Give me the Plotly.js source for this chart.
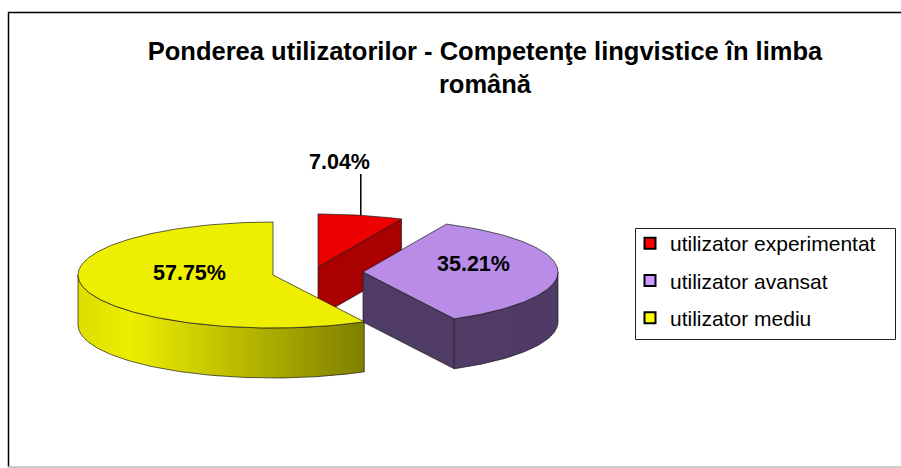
<!DOCTYPE html>
<html>
<head>
<meta charset="utf-8">
<script src="https://cdn.plot.ly/plotly-3.0.0.min.js"></script>
<style>html,body{margin:0;padding:0;background:#fff}#c{width:901px;height:468px}</style>
</head>
<body>
<div id="c"></div>
<script>
var titleText = 'Ponderea utilizatorilor - Competenţe lingvistice în limba<br>română';
var categories = ['utilizator experimentat', 'utilizator avansat', 'utilizator mediu'];
var values = [7.04, 35.21, 57.75];
var legendColors = ['#FF0000', '#CC99FF', '#FFFF00'];
var topColors = ['#EE0000', '#B98CE8', '#EEEE00'];
var sideColors = ['#AA0000', '#503A66', '#DDDD00'];

// projection of the tilted, exploded pie onto the picture's pixel grid
var RX = 195, RY = 53, DEPTH = 50;
var centers = [[318, 267], [363, 272], [273, 275]];
var labelPos = [[339, 162], [473, 264], [189, 273]];
var sideGradients = [
  null,
  [[0, '#503A66'], [0.5, '#503A66'], [1, '#4E3A64']],
  [[0, '#DDDD00'], [0.18, '#EEEE00'], [1, '#7F7F00']]
];

var total = values.reduce(function (a, b) { return a + b; }, 0);
var traces = [];

function pt(c, deg, dy) {
  var r = deg * Math.PI / 180;
  return [c[0] + RX * Math.sin(r), c[1] - RY * Math.cos(r) + (dy || 0)];
}
function arc(c, s, e, dy) {
  var out = [], n = Math.max(2, Math.ceil(Math.abs(e - s)));
  for (var i = 0; i <= n; i++) out.push(pt(c, s + (e - s) * i / n, dy));
  return out;
}
function poly(pts, fill, gradient) {
  var t = {
    type: 'scatter', mode: 'lines', x: pts.map(function (p) { return p[0]; }),
    y: pts.map(function (p) { return p[1]; }), fill: 'toself', fillcolor: fill,
    line: { color: '#1a1a1a', width: 0.7 }, hoverinfo: 'skip', showlegend: false
  };
  if (gradient) t.fillgradient = { type: 'horizontal', colorscale: gradient };
  return t;
}

var cum = 0;
var angles = values.map(function (v) {
  var s = cum / total * 360; cum += v;
  return [s, cum / total * 360];
});

values.forEach(function (v, i) {
  var c = centers[i], s = angles[i][0], e = angles[i][1];
  // straight cut face, visible when the slice ends on the front half
  if (e < 180) {
    var p = pt(c, e);
    traces.push(poly([c, p, [p[0], p[1] + DEPTH], [c[0], c[1] + DEPTH], c], sideColors[i]));
  }
  // outer rim, only the front half of the ellipse shows
  var rs = Math.max(s, 90), re = Math.min(e, 270);
  if (re > rs) {
    var rim = arc(c, rs, re, 0).concat(arc(c, re, rs, DEPTH));
    rim.push(rim[0]);
    traces.push(poly(rim, sideColors[i], sideGradients[i]));
  }
  // top face
  var top = [c].concat(arc(c, s, e, 0)); top.push(c);
  traces.push(poly(top, topColors[i]));
});

// leader line of the smallest slice
var mid = pt(centers[0], (angles[0][0] + angles[0][1]) / 2);
traces.push({
  type: 'scatter', mode: 'lines', x: [mid[0], mid[0]], y: [mid[1], labelPos[0][1] + 12],
  line: { color: '#000', width: 1.5 }, hoverinfo: 'skip', showlegend: false
});

// legend entries
categories.forEach(function (name, i) {
  traces.push({
    type: 'scatter', mode: 'markers', x: [null], y: [null], name: name, legendgroup: name,
    marker: { symbol: 'square', size: 11, color: legendColors[i], line: { color: '#000', width: 2 } },
    hoverinfo: 'skip'
  });
});

var annotations = values.map(function (v, i) {
  return {
    xref: 'x', yref: 'y', x: labelPos[i][0], y: labelPos[i][1], showarrow: false,
    text: v.toFixed(2) + '%', xanchor: 'center', yanchor: 'middle',
    font: { family: 'Liberation Sans, Arial, sans-serif', size: 21.5, color: '#000', weight: 700 }
  };
});

var layout = {
  width: 901, height: 468, margin: { l: 0, r: 0, t: 0, b: 0 },
  paper_bgcolor: '#fff', plot_bgcolor: '#fff',
  title: {
    text: titleText, x: 485 / 901, xanchor: 'center', xref: 'paper',
    y: 1 - 60 / 468, yref: 'paper', yanchor: 'top',
    font: { family: 'Liberation Sans, Arial, sans-serif', size: 25.5, color: '#000', weight: 700 }
  },
  xaxis: { visible: false, range: [0, 901], fixedrange: true },
  yaxis: { visible: false, range: [468, 0], fixedrange: true },
  showlegend: true,
  legend: {
    x: 630 / 901, y: 1 - 223 / 468, xanchor: 'left', yanchor: 'top',
    bgcolor: 'rgba(0,0,0,0)', borderwidth: 0,
    traceorder: 'grouped', tracegroupgap: 7, itemclick: false, itemdoubleclick: false,
    entrywidth: 241, entrywidthmode: 'pixels',
    font: { family: 'Liberation Sans, Arial, sans-serif', size: 21, color: '#000' }
  },
  annotations: annotations,
  shapes: [
    { type: 'rect', xref: 'x', yref: 'y', x0: 635.5, x1: 895.5, y0: 228.5, y1: 339.5, layer: 'below', fillcolor: '#fff', line: { color: '#222', width: 1 } },
    { type: 'line', xref: 'x', yref: 'y', x0: 8.5, x1: 8.5, y0: 12.5, y1: 467, line: { color: '#000', width: 1.5 } },
    { type: 'line', xref: 'x', yref: 'y', x0: 8, x1: 901, y0: 12.5, y1: 12.5, line: { color: '#000', width: 1.5 } },
    { type: 'line', xref: 'x', yref: 'y', x0: 8, x1: 901, y0: 467, y1: 467, line: { color: '#BBB', width: 1.5 } }
  ]
};

Plotly.newPlot('c', traces, layout, { displayModeBar: false, responsive: false, staticPlot: false });
</script>
</body>
</html>
